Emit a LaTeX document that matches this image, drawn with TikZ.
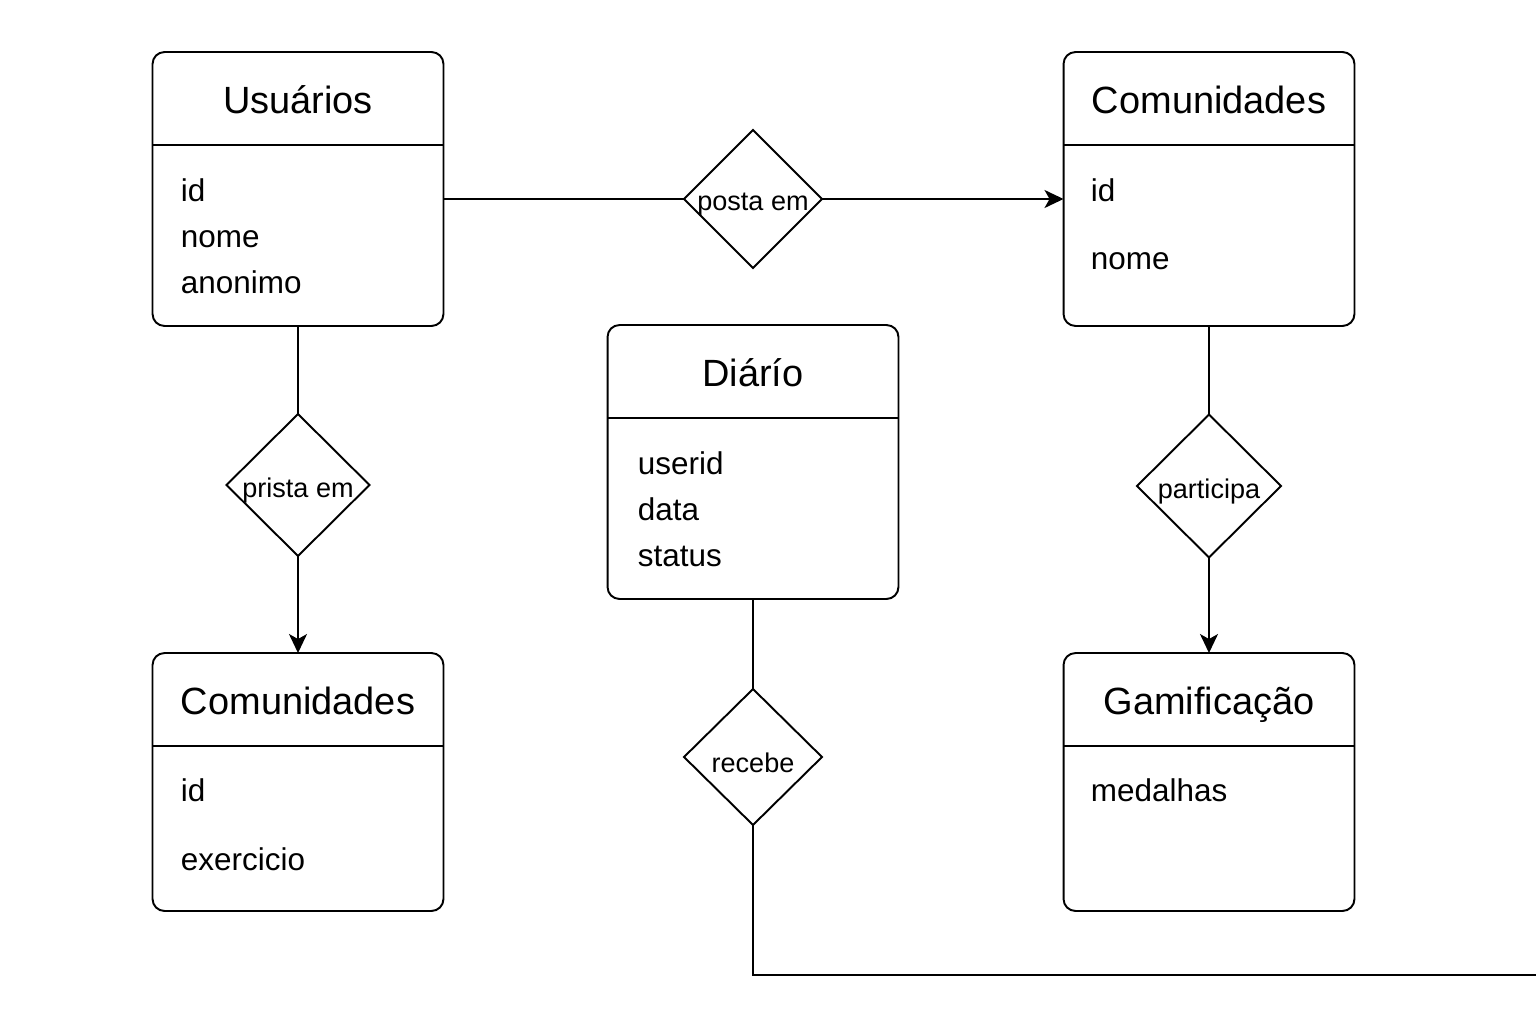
\documentclass[tikz,border=0pt]{standalone}
\usepackage{fontspec}
\setmainfont{Liberation Sans}
\usetikzlibrary{shapes.geometric,arrows.meta}

\tikzset{
    entbox/.style={draw, rounded corners=0.24cm, minimum width=5.82cm, inner sep=0pt, outer sep=0pt},
    enttitle/.style={anchor=base, inner sep=0pt, font=\fontsize{21.6}{24}\selectfont},
    attr/.style={anchor=base west, inner sep=0pt, font=\fontsize{17.9}{20}\selectfont},
    rel/.style={draw, diamond, aspect=1, inner sep=0pt, outer sep=0pt, minimum width=2.76cm, minimum height=2.76cm,
                label={[font=\fontsize{15.4}{17}\selectfont, inner sep=0pt, yshift=-0.12cm]center:#1}},
    conn/.style={-{Stealth[length=0.38cm, width=0.36cm, inset=0.1cm]}}
}

\begin{document}
\begin{tikzpicture}[x=0.02cm, y=-0.02cm, line width=1.1pt]
    \def\hh{1.86cm} %height of the header part
    \def\tb{1.22cm} %baseline of the title below the top
    \useasboundingbox (0,0) rectangle (1536,1024);

    % entity boxes: name/center x/center y/height/title
    \foreach \n/\x/\y/\h/\t in {usr/298/189/5.48cm/Usuários,
                                comT/1209/189/5.48cm/Comunidades,
                                diar/753/462/5.48cm/Diárío,
                                comL/298/782/5.16cm/Comunidades,
                                gam/1209/782/5.16cm/Gamificação}
    {
    \node [entbox, minimum height=\h] (\n) at (\x,\y) {};
    \draw ([yshift=-\hh]\n.north west) -- ([yshift=-\hh]\n.north east);
    \node [enttitle] (\n-t) at ([yshift=-\tb]\n.north) {\t};
    }

    % attributes
    \foreach \a [count=\i] in {id,nome,anonimo}
        \node [attr] (usr-a\i) at (180,154.5+46.5*\i) {\a};
    \node [attr] (comT-a1) at (1090,201) {id};
    \node [attr] (comT-a2) at (1090,269) {nome};
    \foreach \a [count=\i] in {userid,data,status}
        \node [attr] (diar-a\i) at (637,428+46*\i) {\a};
    \node [attr] (comL-a1) at (180,801) {id};
    \node [attr] (comL-a2) at (180,870) {exercicio};
    \node [attr] (gam-a1) at (1090,801) {medalhas};

    % relationships
    \node [rel=posta em] (posta) at (753,199) {};
    \node [rel=prista em, minimum width=2.86cm, minimum height=2.84cm] (prista) at (298,485) {};
    \node [rel=participa, minimum width=2.88cm, minimum height=2.86cm] (part) at (1209,486) {};
    \node [rel=recebe, minimum height=2.72cm] (rec) at (753,757) {};
    \coordinate (fim) at (1536,975);

    \draw (posta.west) -- (posta.west -| usr.east);
    \draw [conn] (posta.east) -- (posta.east -| comT.west);
    \draw (usr.south) -- (prista.north);
    \draw [conn] (prista.south) -- (comL.north);
    \draw (comT.south) -- (part.north);
    \draw [conn] (part.south) -- (gam.north);
    \draw (diar.south) -- (rec.north);
    \draw (rec.south) |- (fim);

\end{tikzpicture}
\end{document}
